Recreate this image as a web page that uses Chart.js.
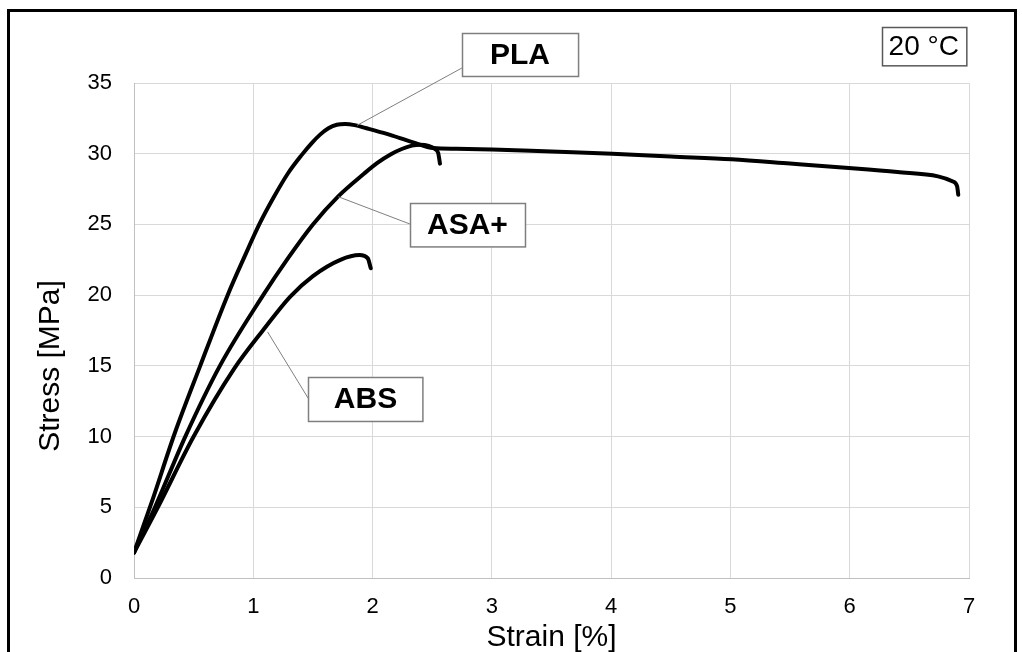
<!DOCTYPE html>
<html><head><meta charset="utf-8">
<script src="https://cdn.jsdelivr.net/npm/chart.js@4.4.0/dist/chart.umd.min.js"></script>
<style>html,body{margin:0;padding:0;background:#fff;}canvas{display:block;}</style>
</head><body>
<canvas id="c" width="1022" height="652"></canvas>
<script>
// ---- data (strain %, stress MPa) ----
const plaStrain = [0,0.15,0.34,0.555,0.785,0.92,1.05,1.17,1.29,1.405,1.49,1.56,1.63,1.70,1.77,1.85,1.95,2.12,2.34,2.51,2.7,3.0,3.5,4.01,4.5,5.01,5.5,6.02,6.4,6.74,6.86,6.9,6.91];
const plaStress = [1.8,5.4,10.2,15,20,22.6,25,26.9,28.6,29.9,30.75,31.35,31.8,32.05,32.1,32.02,31.8,31.4,30.8,30.4,30.35,30.3,30.15,30.0,29.8,29.6,29.3,28.97,28.7,28.4,28.05,27.7,27.1];
const asaStrain = [0,0.176,0.43,0.72,1.083,1.29,1.50,1.71,1.93,2.04,2.15,2.25,2.33,2.40,2.47,2.52,2.55,2.565];
const asaStress = [1.8,5,10,15,20,22.6,25,26.97,28.6,29.35,29.95,30.35,30.57,30.63,30.55,30.35,30.05,29.3];
const absStrain = [0,0.2,0.5,0.84,1.08,1.31,1.5,1.73,1.89,1.96,1.985];
const absStress = [1.8,5,10,14.8,17.5,19.9,21.35,22.5,22.84,22.6,21.9];
const xTickValues = [0,1,2,3,4,5,6,7];
const yTickValues = [0,5,10,15,20,25,30,35];

// ---- callout labels (in data units) ----
const labelText   = ['PLA','ASA+','ABS'];
const boxLeft     = [2.749,2.313,1.461];
const boxRight    = [3.722,3.277,2.420];
const boxTop      = [38.53,26.49,14.23];
const boxBottom   = [35.49,23.42,11.12];
const pointFromX  = [1.869,1.712,1.12];
const pointFromY  = [32.0,26.96,17.4];
const pointToX    = [2.749,2.313,1.461];
const pointToY    = [36.06,25.03,12.70];
const tempText = '20 °C';
const tempBox = [6.267,6.974,38.98,36.27];

const xTitle = 'Strain [%]';
const yTitle = 'Stress [MPa]';
const FONT = '"Liberation Sans", Arial, Helvetica, sans-serif';

function pts(xs, ys){ return xs.map((v,i)=>({x:v, y:ys[i]})); }

const decor = {
  id:'decor',
  beforeDraw(chart){
    const ctx = chart.ctx; ctx.save(); ctx.fillStyle='#fff'; ctx.fillRect(0,0,chart.width,chart.height); ctx.restore();
  },
  afterDraw(chart){
    const ctx = chart.ctx, sx = chart.scales.x, sy = chart.scales.y;
    ctx.save();
    ctx.strokeStyle = '#7f7f7f'; ctx.lineWidth = 1;
    for (let i=0;i<labelText.length;i++){
      ctx.beginPath();
      ctx.moveTo(sx.getPixelForValue(pointFromX[i]), sy.getPixelForValue(pointFromY[i]));
      ctx.lineTo(sx.getPixelForValue(pointToX[i]), sy.getPixelForValue(pointToY[i]));
      ctx.stroke();
    }
    ctx.textAlign='center'; ctx.textBaseline='middle';
    for (let i=0;i<labelText.length;i++){
      const l=sx.getPixelForValue(boxLeft[i]), r=sx.getPixelForValue(boxRight[i]);
      const t=sy.getPixelForValue(boxTop[i]), b=sy.getPixelForValue(boxBottom[i]);
      ctx.fillStyle='#fff'; ctx.fillRect(l,t,r-l,b-t);
      ctx.strokeStyle='#7f7f7f'; ctx.lineWidth=1.5; ctx.strokeRect(Math.round(l)+0.5,Math.round(t)+0.5,r-l,b-t);
      ctx.fillStyle='#000'; ctx.font='bold 30px '+FONT;
      ctx.fillText(labelText[i], (l+r)/2, (t+b)/2+1);
    }
    {
      const l=sx.getPixelForValue(tempBox[0]), r=sx.getPixelForValue(tempBox[1]);
      const t=sy.getPixelForValue(tempBox[2]), b=sy.getPixelForValue(tempBox[3]);
      ctx.fillStyle='#fff'; ctx.fillRect(l,t,r-l,b-t);
      ctx.strokeStyle='#595959'; ctx.lineWidth=1.5; ctx.strokeRect(Math.round(l)+0.5,Math.round(t)+0.5,r-l,b-t);
      ctx.fillStyle='#000'; ctx.font='28px '+FONT;
      ctx.fillText(tempText, (l+r)/2, (t+b)/2+1);
    }
    ctx.fillStyle='#000'; ctx.font='30px '+FONT;
    ctx.textAlign='center'; ctx.textBaseline='alphabetic';
    ctx.fillText(xTitle, (chart.chartArea.left+chart.chartArea.right)/2, 646);
    ctx.save();
    ctx.translate(59, 366); ctx.rotate(-Math.PI/2);
    ctx.fillText(yTitle, 0, 0);
    ctx.restore();
    ctx.strokeStyle='#000'; ctx.lineWidth=3;
    ctx.strokeRect(8.5,10.5,1007,700);
    ctx.restore();
  }
};

const common = {borderColor:'#000', borderWidth:4, pointRadius:0, cubicInterpolationMode:'monotone', fill:false, borderCapStyle:'round', borderJoinStyle:'round'};

new Chart(document.getElementById('c'), {
  type:'line',
  data:{ datasets:[
    Object.assign({label:'PLA', data:pts(plaStrain,plaStress)}, common),
    Object.assign({label:'ASA+', data:pts(asaStrain,asaStress)}, common),
    Object.assign({label:'ABS', data:pts(absStrain,absStress)}, common)
  ]},
  options:{
    responsive:false, animation:false,
    layout:{padding:{left:0,top:83,right:53,bottom:0}},
    plugins:{legend:{display:false}, tooltip:{enabled:false}},
    scales:{
      x:{type:'linear', min:xTickValues[0], max:xTickValues[xTickValues.length-1],
        afterBuildTicks(s){ s.ticks = xTickValues.map(v=>({value:v})); },
        afterFit(s){ s.height = 74; },
        ticks:{font:{family:FONT,size:22}, color:'#000', padding:16, maxRotation:0},
        grid:{color:'#d9d9d9', drawTicks:false},
        border:{color:'#c0c0c0'}},
      y:{type:'linear', min:yTickValues[0], max:yTickValues[yTickValues.length-1],
        afterBuildTicks(s){ s.ticks = yTickValues.map(v=>({value:v})); },
        afterFit(s){ s.width = 134; },
        ticks:{font:{family:FONT,size:22}, color:'#000', padding:22},
        grid:{color:'#d9d9d9', drawTicks:false},
        border:{color:'#c0c0c0'}}
    }
  },
  plugins:[decor]
});
</script>
</body></html>
